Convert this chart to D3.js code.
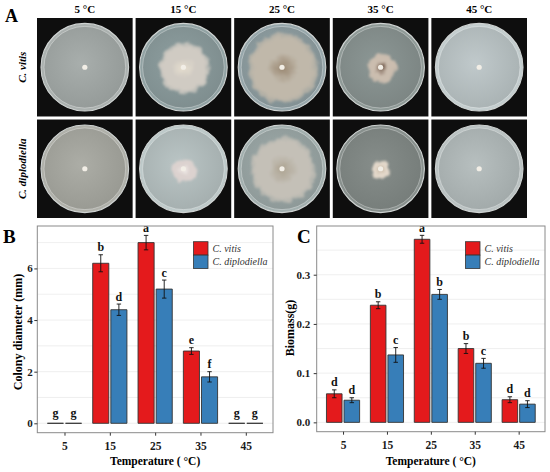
<!DOCTYPE html>
<html>
<head>
<meta charset="utf-8">
<script src="https://cdn.jsdelivr.net/npm/d3@7"></script>
<style>
  body { margin: 0; background: #fff; }
  svg { display: block; font-family: "Liberation Serif", "Times New Roman", serif; }
</style>
</head>
<body>
<svg id="fig" width="550" height="472"></svg>
<script>
// ---- data
const temps = ["5", "15", "25", "35", "45"];
const species = ["C. vitis", "C. diplodiella"];

// B: colony diameter (mm)
const diamVitis = [0, 6.2, 7.0, 2.8, 0];
const diamVitisSe = [0, 0.33, 0.28, 0.13, 0];
const diamDip = [0, 4.4, 5.2, 1.8, 0];
const diamDipSe = [0, 0.22, 0.35, 0.2, 0];
const diamVitisLetters = ["g", "b", "a", "e", "g"];
const diamDipLetters = ["g", "d", "c", "f", "g"];
const diamTicks = [0, 2, 4, 6];

// C: biomass (g)
const bioVitis = [0.058, 0.238, 0.372, 0.15, 0.046];
const bioVitisSe = [0.008, 0.007, 0.008, 0.01, 0.006];
const bioDip = [0.045, 0.137, 0.26, 0.12, 0.037];
const bioDipSe = [0.005, 0.015, 0.01, 0.01, 0.007];
const bioVitisLetters = ["d", "b", "a", "b", "d"];
const bioDipLetters = ["d", "c", "b", "c", "d"];
const bioTicks = [0, 0.1, 0.2, 0.3];

// A: how far each colony has spread over the plate (share of plate radius)
const plateVitis = [0, 0.62, 0.86, 0.36, 0];
const plateDip = [0, 0.3, 0.8, 0.22, 0];

const colVitis = "#e41a1c";
const colDip = "#377eb8";
const serif = "'Liberation Serif', 'Times New Roman', serif";

const svg = d3.select("#fig");
const defs = svg.append("defs");

// ---- panel A (plates)
// look of the photographed plates: agar tone, colony tone, centre tone
const lookVitis = [
  { agar: "#9fa5a3", colony: null, core: null },
  { agar: "#879798", colony: "#d0cbc3", core: "#e6decf" },
  { agar: "#8c9b9e", colony: "#c0b8aa", core: "#9a8872" },
  { agar: "#858f8d", colony: "#cbbdaf", core: "#5a4030" },
  { agar: "#b6bfc0", colony: null, core: null }
];
const lookDip = [
  { agar: "#a3a49d", colony: null, core: null },
  { agar: "#b0bbbb", colony: "#dcd2cf", core: "#f0ebe8" },
  { agar: "#97a3a2", colony: "#c4c0b7", core: "#ada391" },
  { agar: "#7f8683", colony: "#e3d8ca", core: "#c7b7a2" },
  { agar: "#adb5b5", colony: null, core: null }
];

const fz = defs.append("filter").attr("id", "fuzz")
  .attr("x", "-30%").attr("y", "-30%").attr("width", "160%").attr("height", "160%");
fz.append("feTurbulence").attr("type", "fractalNoise").attr("baseFrequency", 0.11)
  .attr("numOctaves", 2).attr("seed", 4).attr("result", "n");
fz.append("feDisplacementMap").attr("in", "SourceGraphic").attr("in2", "n")
  .attr("scale", 8).attr("xChannelSelector", "R").attr("yChannelSelector", "G").attr("result", "d");
fz.append("feGaussianBlur").attr("in", "d").attr("stdDeviation", 0.8);

const tileX = d3.scaleBand().domain(temps).range([37, 527]).paddingInner(0.03);
const tileY = d3.scaleBand().domain(species).range([18, 218]).paddingInner(0.03);

svg.append("text").attr("x", 5).attr("y", 22)
  .attr("font-size", 18).attr("font-weight", "bold").text("A");

svg.append("g").selectAll("text")
  .data(temps).enter().append("text")
  .attr("x", (d) => tileX(d) + tileX.bandwidth() / 2)
  .attr("y", 12.5)
  .attr("text-anchor", "middle")
  .attr("font-size", 11).attr("font-weight", "bold")
  .text((d) => d + " °C");

svg.append("g").selectAll("text")
  .data(species).enter().append("text")
  .attr("transform", (d) => `translate(26,${tileY(d) + tileY.bandwidth() / 2}) rotate(-90)`)
  .attr("text-anchor", "middle")
  .attr("font-size", 11).attr("font-weight", "bold").attr("font-style", "italic")
  .text((d) => d);

const plates = [];
species.forEach((sp, r) => {
  temps.forEach((t, c) => {
    plates.push({
      sp, t, id: `p${r}${c}`,
      spread: r === 0 ? plateVitis[c] : plateDip[c],
      look: r === 0 ? lookVitis[c] : lookDip[c]
    });
  });
});

plates.forEach((p) => {
  const x0 = tileX(p.t), y0 = tileY(p.sp);
  const w = tileX.bandwidth(), h = tileY.bandwidth();
  const cx = x0 + w / 2, cy = y0 + h / 2;
  const R = Math.min(w, h) / 2 - 4;

  const ag = defs.append("radialGradient").attr("id", "ag" + p.id)
    .attr("cx", "45%").attr("cy", "45%").attr("r", "60%");
  ag.append("stop").attr("offset", "0%").attr("stop-color", d3.color(p.look.agar).brighter(0.15));
  ag.append("stop").attr("offset", "100%").attr("stop-color", d3.color(p.look.agar).darker(0.2));

  const g = svg.append("g");
  g.append("rect").attr("x", x0).attr("y", y0).attr("width", w).attr("height", h)
    .attr("fill", "#0e0e0e");
  // dish rim
  g.append("circle").attr("cx", cx).attr("cy", cy).attr("r", R)
    .attr("fill", d3.color(p.look.agar).brighter(0.2))
    .attr("stroke", "#cfd3d2").attr("stroke-width", 1.1);
  g.append("circle").attr("cx", cx).attr("cy", cy).attr("r", R - 3)
    .attr("fill", `url(#ag${p.id})`)
    .attr("stroke", "rgba(255,255,255,0.4)").attr("stroke-width", 0.8);

  if (p.look.colony) {
    const cg = defs.append("radialGradient").attr("id", "cg" + p.id);
    cg.append("stop").attr("offset", "0%").attr("stop-color", p.look.core);
    cg.append("stop").attr("offset", "45%").attr("stop-color", p.look.colony);
    cg.append("stop").attr("offset", "85%").attr("stop-color", p.look.colony);
    cg.append("stop").attr("offset", "100%").attr("stop-color", p.look.colony).attr("stop-opacity", 0.6);
    g.append("circle").attr("cx", cx + 1).attr("cy", cy + 1).attr("r", p.spread * (R - 3))
      .attr("fill", `url(#cg${p.id})`)
      .attr("filter", "url(#fuzz)");
  }
  // inoculum plug
  g.append("circle").attr("cx", cx).attr("cy", cy).attr("r", 2.6)
    .attr("fill", "#f2eee6");
});

// ---- bar panels (B, C)
function barPanel(cfg) {
  const g = svg.append("g");
  const x = d3.scalePoint().domain(temps).range([cfg.left, cfg.right]).padding(0.6);
  const step = x.step();
  const bw = step * 0.355, off = step * 0.2;

  const tops = cfg.a.map((v, i) => v + cfg.aSe[i]).concat(cfg.b.map((v, i) => v + cfg.bSe[i]));
  const top = d3.max(tops);
  const y = d3.scaleLinear().domain([-0.05 * top, 1.05 * top]).range([cfg.bottom, cfg.top]);

  const tStep = cfg.ticks[1] - cfg.ticks[0];
  const minor = cfg.ticks.map((t) => t + tStep / 2).filter((t) => t < y.domain()[1]);

  g.append("g").selectAll("line")
    .data(cfg.ticks.concat(minor)).enter().append("line")
    .attr("x1", cfg.left).attr("x2", cfg.right)
    .attr("y1", (d) => y(d)).attr("y2", (d) => y(d))
    .attr("stroke", "#ebebeb").attr("stroke-width", 0.8);

  const rows = temps.map((t, i) => [
    { t, v: cfg.a[i], se: cfg.aSe[i], lab: cfg.aLab[i], dx: -off, fill: colVitis },
    { t, v: cfg.b[i], se: cfg.bSe[i], lab: cfg.bLab[i], dx: off, fill: colDip }
  ]).flat();

  g.append("g").selectAll("path")
    .data(rows).enter().append("path")
    .attr("d", (d) => {
      const xl = x(d.t) + d.dx - bw / 2;
      return `M${xl},${y(0)}V${y(d.v)}H${xl + bw}V${y(0)}Z`;
    })
    .attr("fill", (d) => d.fill)
    .attr("stroke", "#333").attr("stroke-width", 0.9);

  const eb = g.append("g").attr("stroke", "#111").attr("stroke-width", 0.9)
    .selectAll("g").data(rows.filter((d) => d.se > 0)).enter().append("g");
  eb.append("line")
    .attr("x1", (d) => x(d.t) + d.dx).attr("x2", (d) => x(d.t) + d.dx)
    .attr("y1", (d) => y(d.v - d.se)).attr("y2", (d) => y(d.v + d.se));
  [-1, 1].forEach((s) => {
    eb.append("line")
      .attr("x1", (d) => x(d.t) + d.dx - 2.2).attr("x2", (d) => x(d.t) + d.dx + 2.2)
      .attr("y1", (d) => y(d.v + s * d.se)).attr("y2", (d) => y(d.v + s * d.se));
  });

  g.append("g").selectAll("text")
    .data(rows).enter().append("text")
    .attr("x", (d) => x(d.t) + d.dx)
    .attr("y", (d) => y(d.v + d.se) - (d.v === 0 ? 6 : 3.5))
    .attr("text-anchor", "middle")
    .attr("font-size", 12).attr("font-weight", "bold").attr("fill", "#111")
    .text((d) => d.lab);

  // frame
  g.append("rect").attr("x", cfg.left).attr("y", cfg.top)
    .attr("width", cfg.right - cfg.left).attr("height", cfg.bottom - cfg.top)
    .attr("fill", "none").attr("stroke", "#8a8a8a").attr("stroke-width", 1);

  const ya = g.append("g").attr("transform", `translate(${cfg.left},0)`)
    .call(d3.axisLeft(y).tickValues(cfg.ticks).tickSize(3).tickPadding(cfg.pad).tickFormat(cfg.fmt));
  const xa = g.append("g").attr("transform", `translate(0,${cfg.bottom})`)
    .call(d3.axisBottom(x).tickSize(3).tickPadding(3));
  [ya, xa].forEach((a) => {
    a.attr("font-family", serif).attr("font-size", 11);
    a.select(".domain").remove();
    a.selectAll(".tick line").attr("stroke", "#333");
    a.selectAll("text").attr("font-family", serif).attr("font-size", 11)
      .attr("font-weight", "bold").attr("fill", "#1a1a1a");
  });
  xa.selectAll("text").attr("dy", null).attr("y", 17.3).attr("font-size", 11.5);

  g.append("text").attr("x", (cfg.left + cfg.right) / 2).attr("y", 465)
    .attr("text-anchor", "middle").attr("font-size", 11.5).attr("font-weight", "bold")
    .text("Temperature ( °C)");
  g.append("text")
    .attr("transform", `translate(${cfg.titleX},${cfg.titleY}) rotate(-90)`)
    .attr("text-anchor", "middle").attr("font-size", 12).attr("font-weight", "bold")
    .text(cfg.yTitle);
  g.append("text").attr("x", cfg.tagX).attr("y", 243)
    .attr("font-size", 19).attr("font-weight", "bold").text(cfg.tag);

  // legend
  const lg = g.append("g").selectAll("g")
    .data([{ name: species[0], fill: colVitis }, { name: species[1], fill: colDip }])
    .enter().append("g")
    .attr("transform", (d, i) => `translate(${cfg.legX},${241.7 + i * 13.4})`);
  lg.append("rect").attr("width", 14.5).attr("height", 13.4)
    .attr("fill", (d) => d.fill).attr("stroke", "#333").attr("stroke-width", 0.8);
  lg.append("text").attr("x", 19).attr("y", 10)
    .attr("font-size", 10).attr("font-style", "italic").attr("fill", "#333")
    .text((d) => d.name);
}

barPanel({
  left: 37.3, right: 273, top: 226, bottom: 432.7,
  a: diamVitis, aSe: diamVitisSe, b: diamDip, bSe: diamDipSe,
  aLab: diamVitisLetters, bLab: diamDipLetters,
  ticks: diamTicks, fmt: d3.format("d"), pad: 1.5,
  yTitle: "Colony diameter (mm)", titleX: 22, titleY: 332, tag: "B", tagX: 3, legX: 193.5
});

barPanel({
  left: 316.7, right: 545, top: 226, bottom: 431.7,
  a: bioVitis, aSe: bioVitisSe, b: bioDip, bSe: bioDipSe,
  aLab: bioVitisLetters, bLab: bioDipLetters,
  ticks: bioTicks, fmt: d3.format(".1f"), pad: 3.5,
  yTitle: "Biomass(g)", titleX: 294, titleY: 328, tag: "C", tagX: 297, legX: 465.5
});
</script>
</body>
</html>
